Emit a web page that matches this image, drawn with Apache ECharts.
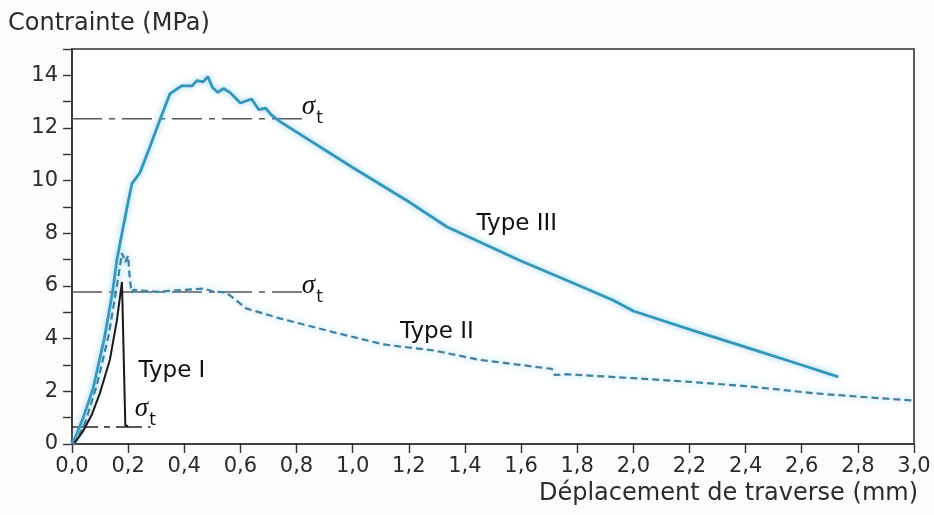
<!DOCTYPE html>
<html>
<head>
<meta charset="utf-8">
<script src="https://cdn.jsdelivr.net/npm/echarts@6/dist/echarts.min.js"></script>
<style>html,body{margin:0;padding:0;background:#fefcfb}#c{width:934px;height:515px}</style>
</head>
<body>
<div id="c"></div>
<script>
// ---- data ----
var xTitle = 'Déplacement de traverse (mm)';
var yTitle = 'Contrainte (MPa)';
var xMin = 0, xMax = 3, xStep = 0.2;
var yMin = 0, yMax = 15, yStep = 1;

var typeIII = [[0,0],[0.01,0.2],[0.04,1.0],[0.075,2.1],[0.115,4.0],[0.145,5.8],[0.16,7.0],[0.178,8.0],[0.2,9.2],[0.214,9.9],[0.242,10.3],[0.278,11.3],[0.313,12.3],[0.349,13.3],[0.39,13.6],[0.428,13.6],[0.445,13.8],[0.467,13.75],[0.484,13.95],[0.5,13.55],[0.52,13.35],[0.54,13.5],[0.563,13.35],[0.6,12.95],[0.64,13.1],[0.665,12.7],[0.69,12.75],[0.71,12.5],[0.74,12.25],[1.0,10.5],[1.2,9.2],[1.335,8.25],[1.6,6.95],[1.8,6.05],[1.93,5.45],[2.0,5.05],[2.2,4.35],[2.4,3.68],[2.6,3.0],[2.73,2.55]];

var typeII = [[0,0],[0.02,0.2],[0.05,0.9],[0.09,2.3],[0.13,4.1],[0.16,6.0],[0.178,7.25],[0.19,6.9],[0.2,7.15],[0.205,6.4],[0.212,5.75],[0.22,5.85],[0.3,5.78],[0.4,5.85],[0.47,5.9],[0.5,5.8],[0.55,5.75],[0.58,5.5],[0.62,5.15],[0.74,4.77],[0.93,4.25],[1.11,3.78],[1.29,3.55],[1.45,3.2],[1.6,3.0],[1.71,2.85],[1.72,2.62],[1.76,2.65],[2.0,2.5],[2.19,2.37],[2.4,2.2],[2.64,1.93],[2.8,1.8],[3.0,1.65]];

var typeI = [[0.01,0.05],[0.04,0.5],[0.07,1.1],[0.1,1.95],[0.135,3.2],[0.16,4.7],[0.178,6.15],[0.19,0.7],[0.2,0.68]];

var sigmaIII = [[0,12.35],[0.83,12.35]];
var sigmaII = [[0,5.77],[0.83,5.77]];
var sigmaI = [[0,0.65],[0.28,0.65]];

var typeLabels = [[1.585,8.36,'Type III'],[1.30,4.25,'Type II'],[0.356,2.77,'Type I']];
var sigmaLabels = [[0.819,12.79],[0.819,5.99],[0.224,1.34]];

// ---- chart ----
var chart = echarts.init(document.getElementById('c'), null, {renderer:'canvas'});
var tickFont = {fontFamily:'DejaVu Sans', fontSize:21, color:'#2b2b2b'};
var blue = '#3596b9';
var glow = {shadowColor:'rgba(110,195,235,0.85)', shadowBlur:6};

function axisCommon() {
  return {
    axisLine:{show:true, onZero:false, lineStyle:{color:'#333', width:1.6}},
    axisTick:{show:true, inside:false, length:9, lineStyle:{color:'#333', width:1.4}},
    splitLine:{show:false}
  };
}

var xAxis = Object.assign(axisCommon(), {
  type:'value', min:xMin, max:xMax, interval:xStep,
  axisLabel:Object.assign({margin:12, formatter:function(v){return v.toFixed(1).replace('.', ',');}}, tickFont)
});
var yAxis = Object.assign(axisCommon(), {
  type:'value', min:yMin, max:yMax, interval:yStep,
  axisLabel:Object.assign({margin:14, formatter:function(v){return (Math.round(v) % 2 === 0) ? String(Math.round(v)) : '';}}, tickFont)
});

chart.setOption({
  backgroundColor:'#fefcfb',
  animation:false,
  grid:{left:72, right:20, top:49, bottom:71, show:true, borderColor:'#333', borderWidth:1.6, backgroundColor:'#ffffff', containLabel:false},
  xAxis:xAxis,
  yAxis:yAxis,
  graphic:[
    {type:'text', left:8, top:12, style:{text:yTitle, fontFamily:'DejaVu Sans', fontSize:24, fill:'#2b2b2b'}},
    {type:'text', right:16, top:482, style:{text:xTitle, fontFamily:'DejaVu Sans', fontSize:24, fill:'#2b2b2b'}}
  ],
  series:[
    {type:'line', data:sigmaIII, symbol:'none', silent:true, lineStyle:{color:'#555', width:1.5, type:[30,7,6,7]}, z:1},
    {type:'line', data:sigmaII, symbol:'none', silent:true, lineStyle:{color:'#555', width:1.5, type:[30,7,6,7]}, z:1},
    {type:'line', data:sigmaI, symbol:'none', silent:true, lineStyle:{color:'#222', width:1.5, type:[26,6,6,6]}, z:1},
    {type:'line', name:'Type III', data:typeIII, symbol:'none', smooth:false, lineStyle:Object.assign({color:blue, width:2.8}, glow), z:3},
    {type:'line', name:'Type II', data:typeII, symbol:'none', lineStyle:Object.assign({color:'#44809e', width:2.2, type:[7,4]}, glow), z:3},
    {type:'line', name:'Type I', data:typeI, symbol:'none', lineStyle:{color:'#1a1a1a', width:2}, z:4},
    {type:'scatter', data:typeLabels, symbolSize:0, silent:true, z:5, itemStyle:{color:'#000', opacity:1},
      label:{show:true, position:'inside', opacity:1, formatter:function(p){return p.data[2];}, fontFamily:'DejaVu Sans', fontSize:23, color:'#111', textBorderWidth:0}},
    {type:'scatter', data:sigmaLabels, symbolSize:0, silent:true, z:5, itemStyle:{color:'#000', opacity:1},
      label:{show:true, position:'inside', opacity:1, align:'left', verticalAlign:'middle', formatter:'{s|σ}{t|t}', textBorderWidth:0,
        rich:{
          s:{fontFamily:'Liberation Serif', fontStyle:'italic', fontSize:27, color:'#111', lineHeight:40, verticalAlign:'middle', textBorderWidth:0},
          t:{fontFamily:'DejaVu Sans', fontSize:17, color:'#111', lineHeight:26, verticalAlign:'bottom', padding:[0,0,0,1], textBorderWidth:0}
        }}}
  ]
});
</script>
</body>
</html>
